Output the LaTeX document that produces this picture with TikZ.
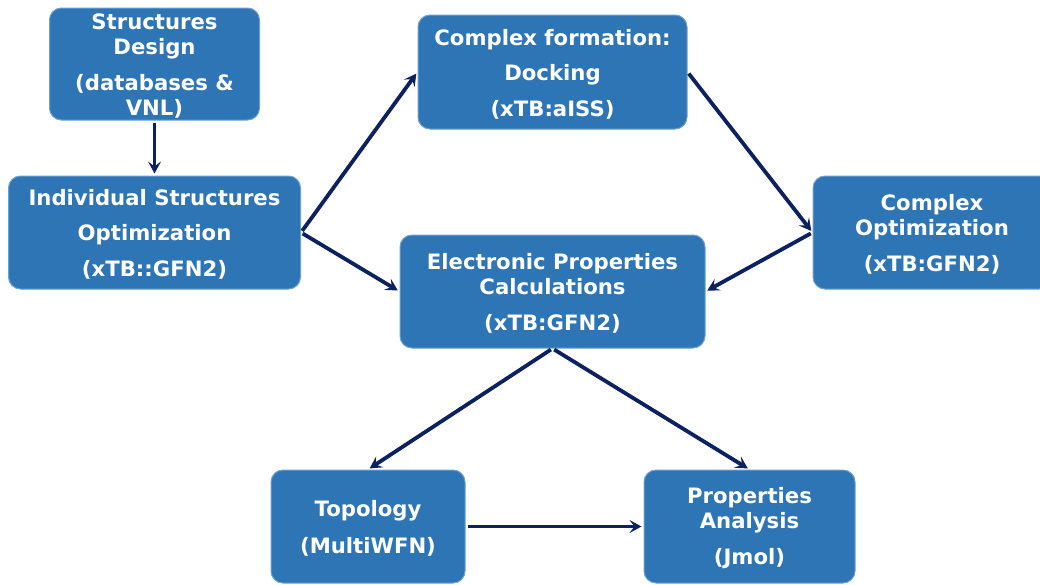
\documentclass[tikz,border=0pt]{standalone}
\usepackage{fontspec}
\setmainfont{DejaVu Sans}
\usetikzlibrary{arrows.meta}
\definecolor{boxblue}{RGB}{46,117,182}
\definecolor{boxedge}{RGB}{110,160,212}
\definecolor{navy}{RGB}{12,33,96}
\begin{document}
\begin{tikzpicture}[x=1pt,y=-1pt,
 box/.style={draw=boxedge, line width=1pt, fill=boxblue, rounded corners=12pt, inner sep=0pt},
 txt/.style={text=white, font=\bfseries\fontsize{21.2}{25}\selectfont, align=center, inner sep=0pt, yshift=-2pt},
 conn/.style={draw=navy, line width=3.8pt, -{Stealth[length=12pt,width=13pt,inset=5pt]},
   shorten >=2pt, shorten <=2pt}]
\clip (0,0) rectangle (1040,584);
\fill[white] (0,0) rectangle (1040,584);
\node[box, minimum width=210pt, minimum height=112pt] (sd) at (154.5,64) {};
\node[txt] (sdt) at (sd.center) {Structures\\Design\\[11pt](databases \&\\VNL)};
\node[box, minimum width=292pt, minimum height=113pt] (iso) at (154.5,232.5) {};
\node[txt] (isot) at (iso.center) {Individual Structures\\[10pt]Optimization\\[11pt](xTB::GFN2)};
\node[box, minimum width=269pt, minimum height=114pt] (cf) at (552.5,72) {};
\node[txt] (cft) at (cf.center) {Complex formation:\\[10pt]Docking\\[11pt](xTB:aISS)};
\node[box, minimum width=238pt, minimum height=113pt] (co) at (932,232.5) {};
\node[txt] (cot) at (co.center) {Complex\\Optimization\\[11pt](xTB:GFN2)};
\node[box, minimum width=305pt, minimum height=113pt] (ep) at (552.5,291.5) {};
\node[txt] (ept) at (ep.center) {Electronic Properties\\Calculations\\[11pt](xTB:GFN2)};
\node[box, minimum width=194pt, minimum height=113pt] (top) at (368,526.5) {};
\node[txt] (topt) at (top.center) {Topology\\[12pt](MultiWFN)};
\node[box, minimum width=211pt, minimum height=113pt] (pa) at (749.5,526.5) {};
\node[txt] (pat) at (pa.center) {Properties\\Analysis\\[11pt](Jmol)};
\draw[conn] (sd.south) -- (iso.north);
\draw[conn] (iso.east) -- (cf.west);
\draw[conn] (iso.east) -- (ep.west);
\draw[conn] (cf.east) -- (co.west);
\draw[conn] (co.west) -- (ep.east);
\draw[conn] (ep.south) -- (top.north);
\draw[conn] (ep.south) -- (pa.north);
\draw[conn] (top.east) -- (pa.west);
\end{tikzpicture}
\end{document}
